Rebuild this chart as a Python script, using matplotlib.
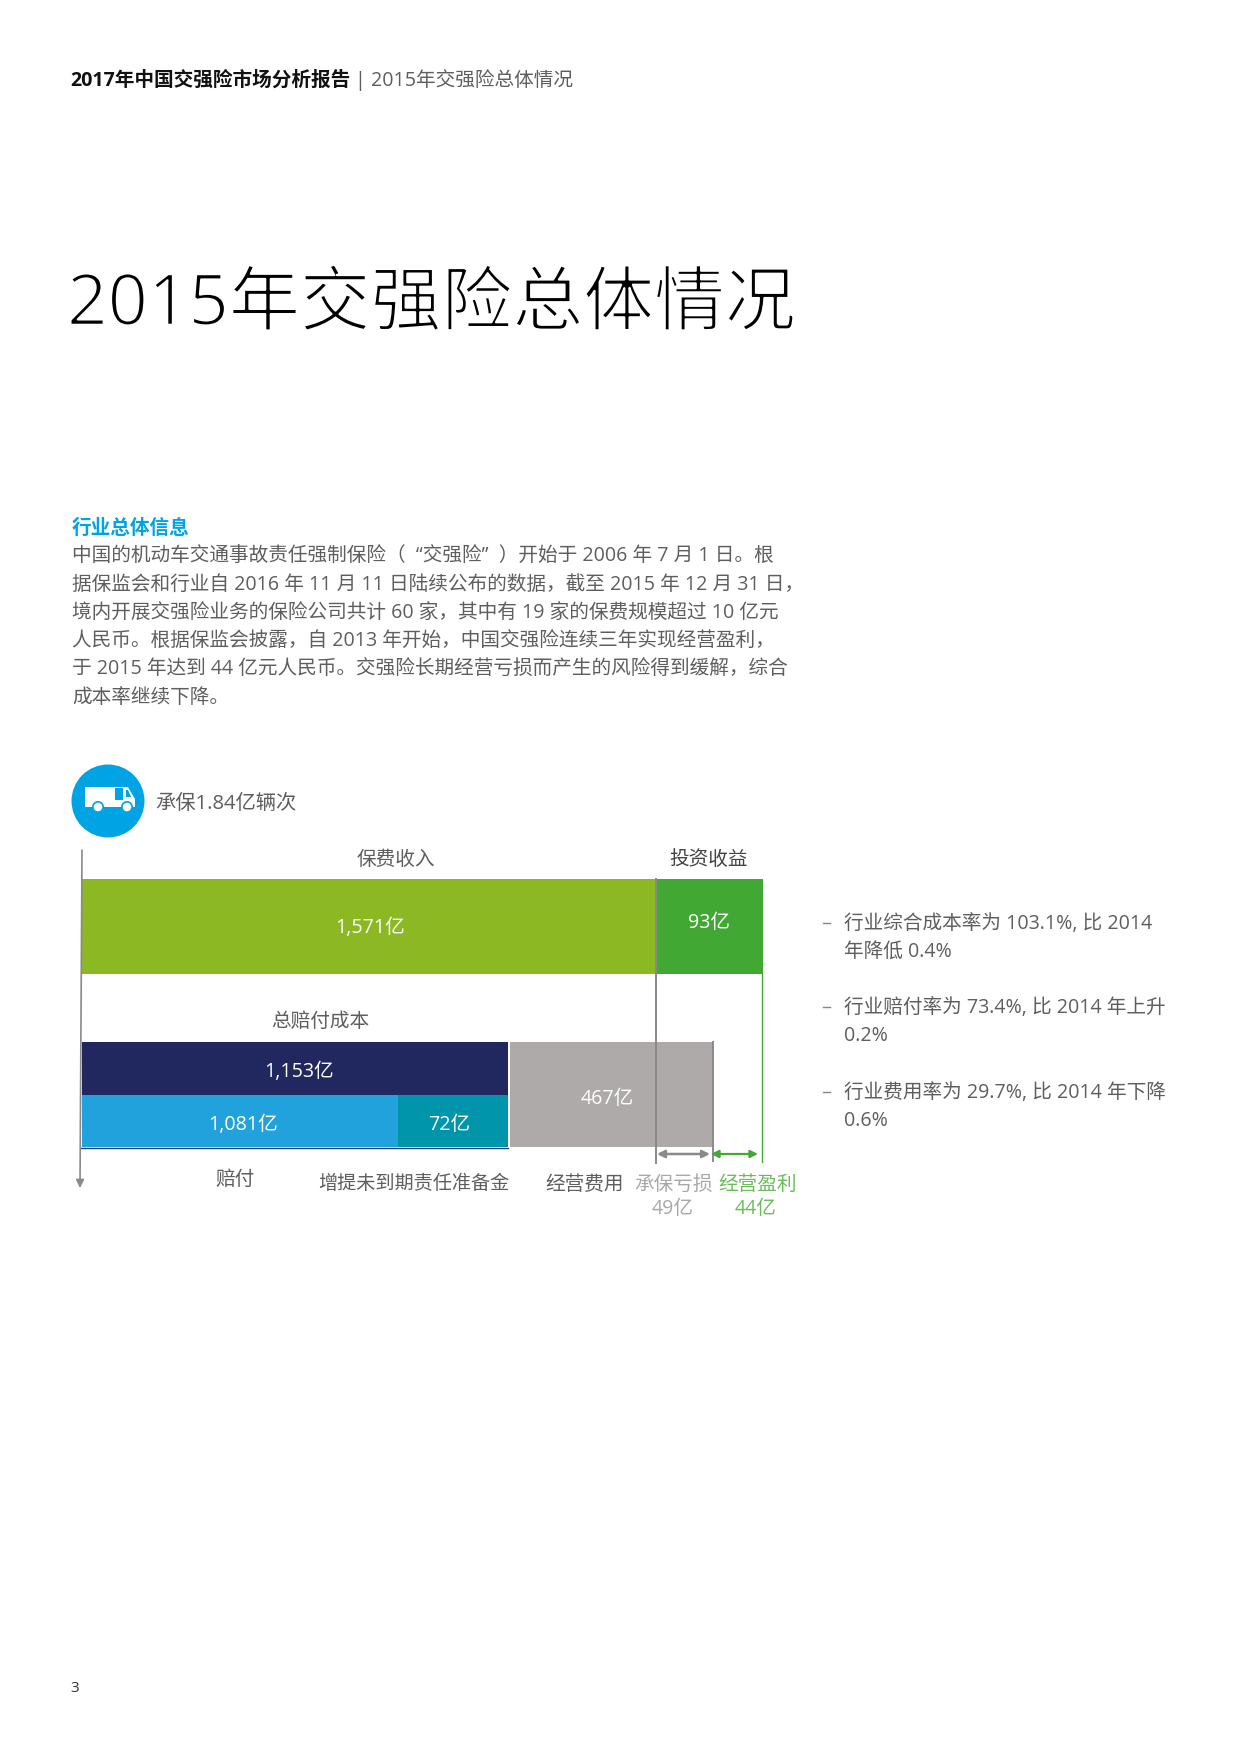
import matplotlib

matplotlib.use("Agg")
import matplotlib.patheffects as pe
import matplotlib.pyplot as plt
from matplotlib.patches import Circle, Polygon, Rectangle

plt.rcParams["font.family"] = ["Open Sans", "Noto Sans CJK SC", "DejaVu Sans"]

W, H = 1240, 1754

# labelled amounts, 亿元
PREMIUM = 1571
INVESTMENT = 93
TOTAL_CLAIMS = 1153
CLAIMS_PAID = 1081
UPR_INCREASE = 72
EXPENSES = 467
UW_LOSS = 49
OP_PROFIT = 44

# bar lengths as drawn in the picture (the original is not to scale), same units as PREMIUM
TOP_LENGTHS = [1571, 296]
MID_LENGTHS = [1171]
LOW_LENGTHS = [869, 302]
EXPENSE_LENGTH = 557

BODY_LINES = [
    "中国的机动车交通事故责任强制保险（  “交强险”  ）开始于 2006 年 7 月 1 日。根",
    "据保监会和行业自 2016 年 11 月 11 日陆续公布的数据，截至 2015 年 12 月 31 日，",
    "境内开展交强险业务的保险公司共计 60 家，其中有 19 家的保费规模超过 10 亿元",
    "人民币。根据保监会披露，自 2013 年开始，中国交强险连续三年实现经营盈利，",
    "于 2015 年达到 44 亿元人民币。交强险长期经营亏损而产生的风险得到缓解，综合",
    "成本率继续下降。",
]
NOTES = [
    ["行业综合成本率为 103.1%, 比 2014", "年降低 0.4%"],
    ["行业赔付率为 73.4%, 比 2014 年上升", "0.2%"],
    ["行业费用率为 29.7%, 比 2014 年下降", "0.6%"],
]

GREY = "#5E5E5E"
OLIVE = "#8CB823"
GREEN = "#41A933"
NAVY = "#21275F"
BLUE = "#22A2DC"
TEAL = "#0095AB"
STONE = "#AEAAA9"
CYAN = "#00A3E4"
LINE_GREY = "#8A8A8A"
LIGHT_GREEN = "#6CBB5A"


def label(page, x, y, text, size=14.15, color=GREY, ha="left", weight="normal"):
    return page.text(x, y + 2, text, fontsize=size, color=color, ha=ha, va="center", fontweight=weight)


def draw_truck(page):
    page.add_patch(Circle((108, 801), 36.5, color=CYAN, lw=0))
    page.add_patch(Rectangle((85, 787), 30, 20, color="white", lw=0))
    page.add_patch(Polygon([(115, 787), (128, 787), (135, 799), (135, 807), (115, 807)], color="white", lw=0))
    page.add_patch(Rectangle((115, 788), 8, 12, color=CYAN, lw=0))
    page.add_patch(Polygon([(126, 790), (128, 790), (131, 797), (126, 797)], color=CYAN, lw=0))
    for cx in (98, 127):
        page.add_patch(Circle((cx, 807), 6, color=CYAN, lw=0))
        page.add_patch(Circle((cx, 807), 4.3, color="white", lw=0))


def arrow(page, x0, x1, y, color, lw=1.6):
    page.annotate(
        "", xy=(x1, y), xytext=(x0, y),
        arrowprops=dict(arrowstyle="<|-|>", color=color, lw=lw, shrinkA=0, shrinkB=0, mutation_scale=11),
    )


fig = plt.figure(figsize=(W / 100, H / 100), dpi=100, facecolor="white")

# chart axes: x in amount units, y in page pixels for the row layout
px_per_unit = 573 / PREMIUM
ax = fig.add_axes([82 / W, 1 - 1200 / H, 700 / W, 350 / H])
ax.set_xlim(0, 700 / px_per_unit)
ax.set_ylim(1200, 850)
ax.axis("off")

ax.barh(926.5, TOP_LENGTHS[0], height=95, color=OLIVE)
ax.barh(926.5, TOP_LENGTHS[1], left=TOP_LENGTHS[0], height=95, color=GREEN)
ax.barh(1068.5, MID_LENGTHS[0], left=-3, height=53, color=NAVY)
ax.barh(1121, LOW_LENGTHS[0], left=-3, height=52, color=BLUE)
ax.barh(1121, LOW_LENGTHS[1], left=LOW_LENGTHS[0] - 3, height=52, color=TEAL)
ax.barh(1094.5, EXPENSE_LENGTH, left=MID_LENGTHS[0] + 3, height=105, color=STONE)

page = fig.add_axes([0, 0, 1, 1], facecolor="none")
page.set_xlim(0, W)
page.set_ylim(H, 0)
page.axis("off")

# header and title
label(page, 70, 79, "2017年中国交强险市场分析报告", color="#111111", weight="bold")
label(page, 354, 79, "|", color=GREY)
label(page, 371, 79, "2015年交强险总体情况")
title = label(page, 67, 304, "2015年交强险总体情况", size=51, color="black")
# the picture uses a light cut; thin the regular glyphs with a white outline
title.set_path_effects([pe.Normal(), pe.Stroke(linewidth=1.5, foreground="white")])

label(page, 72, 527, "行业总体信息", color=CYAN, weight="bold")
for i, line in enumerate(BODY_LINES):
    label(page, 72, 554.5 + i * 28.3, line)

draw_truck(page)
label(page, 155, 802, "承保1.84亿辆次", size=14.6)

# lines and arrows
page.annotate("", xy=(80, 1188), xytext=(82, 850),
              arrowprops=dict(arrowstyle="-|>", color=LINE_GREY, lw=1.2, shrinkA=0, shrinkB=0, mutation_scale=12))
page.plot([81, 508], [1147.5, 1147.5], color="#1F3F7F", lw=1)
page.plot([655.5, 655.5], [879, 1163], color=LINE_GREY, lw=1.4)
page.plot([712.5, 712.5], [1042, 1161], color=LINE_GREY, lw=1.4)
page.plot([761.5, 761.5], [974, 1162], color=GREEN, lw=1)
arrow(page, 657, 710, 1154, LINE_GREY, lw=1.8)
arrow(page, 711, 758, 1154, GREEN)

# chart labels
label(page, 396, 858, "保费收入", ha="center")
label(page, 709, 858, "投资收益", ha="center", color="#444444")
label(page, 370, 926, f"{PREMIUM:,}亿", ha="center", color="white")
label(page, 709, 921, f"{INVESTMENT}亿", ha="center", color="white")
label(page, 320, 1020, "总赔付成本", ha="center")
label(page, 299, 1070, f"{TOTAL_CLAIMS:,}亿", ha="center", color="white")
label(page, 243, 1123, f"{CLAIMS_PAID:,}亿", ha="center", color="white")
label(page, 449, 1123, f"{UPR_INCREASE}亿", ha="center", color="white")
label(page, 607, 1097, f"{EXPENSES}亿", ha="center", color="white")
label(page, 235, 1178, "赔付", ha="center")
label(page, 414, 1182, "增提未到期责任准备金", ha="center", size=13.8)
label(page, 585, 1183, "经营费用", ha="center")
label(page, 674, 1183, "承保亏损", ha="center", color="#A8A8A8")
label(page, 673, 1207, f"{UW_LOSS}亿", ha="center", color="#A8A8A8")
label(page, 758, 1183, "经营盈利", ha="center", color=LIGHT_GREEN)
label(page, 756, 1207, f"{OP_PROFIT}亿", ha="center", color=LIGHT_GREEN)

# notes on the right
for i, lines in enumerate(NOTES):
    y0 = [922, 1006, 1091][i]
    page.plot([823, 830], [y0 + 1, y0 + 1], color="#888888", lw=1)
    label(page, 844, y0, lines[0])
    label(page, 844, y0 + 28, lines[1])

label(page, 70, 1687, "3", size=11, color="#333333")

fig.savefig("out.png", dpi=100)
